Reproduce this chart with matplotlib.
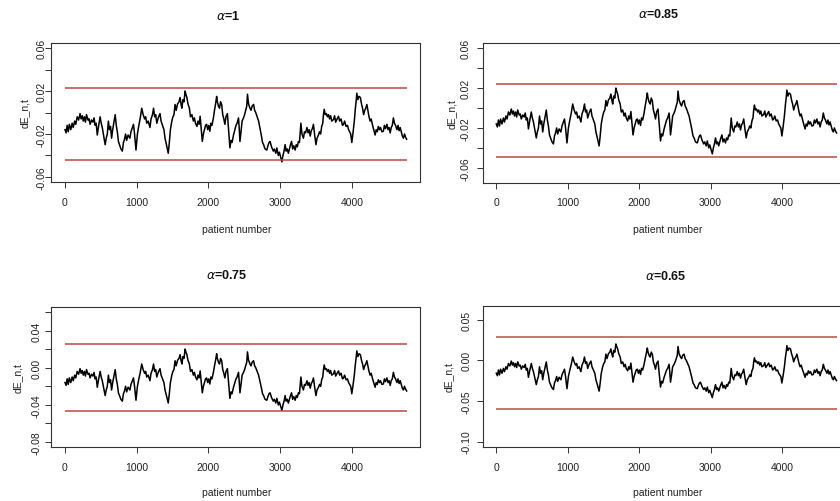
import numpy as np
import matplotlib.pyplot as plt

# punkty (numer pacjenta, wartość dE_n,t)
patient = [0, 15, 30, 45, 60, 80, 100, 115, 135, 150, 170, 190, 210, 225, 240, 255, 270, 285, 300, 320,
           335, 350, 370, 390, 405, 420, 435, 450, 470, 490, 505, 520, 540, 560, 575, 590, 605, 620, 635, 650,
           665, 680, 700, 715, 730, 745, 760, 780, 800, 815, 830, 845, 860, 880, 905, 920, 940, 955, 970, 990,
           1010, 1030, 1050, 1070, 1090, 1110, 1125, 1140, 1160, 1185, 1200, 1220, 1235, 1250, 1265, 1280, 1300, 1325, 1340, 1360,
           1380, 1395, 1415, 1440, 1455, 1470, 1490, 1505, 1520, 1535, 1550, 1570, 1590, 1605, 1618, 1630, 1645, 1660, 1675, 1690,
           1700, 1715, 1735, 1750, 1770, 1790, 1805, 1820, 1840, 1855, 1870, 1885, 1900, 1915, 1930, 1945, 1960, 1975, 1990, 2005,
           2020, 2035, 2050, 2070, 2085, 2100, 2115, 2125, 2140, 2155, 2170, 2185, 2200, 2215, 2230, 2245, 2265, 2280, 2300, 2315,
           2330, 2350, 2370, 2385, 2400, 2420, 2430, 2440, 2455, 2470, 2490, 2505, 2520, 2535, 2545, 2560, 2580, 2595, 2610, 2630,
           2645, 2660, 2680, 2700, 2720, 2740, 2755, 2770, 2790, 2815, 2830, 2845, 2860, 2880, 2905, 2920, 2940, 2955, 2975, 2990,
           3010, 3025, 3040, 3055, 3070, 3085, 3100, 3115, 3130, 3145, 3160, 3175, 3190, 3210, 3225, 3240, 3255, 3270, 3290, 3305,
           3325, 3340, 3355, 3375, 3390, 3405, 3420, 3435, 3450, 3465, 3480, 3500, 3515, 3535, 3550, 3565, 3580, 3595, 3605, 3615,
           3630, 3645, 3660, 3675, 3690, 3705, 3720, 3745, 3760, 3775, 3795, 3815, 3830, 3850, 3870, 3885, 3900, 3920, 3940, 3955,
           3970, 3985, 4000, 4015, 4035, 4050, 4060, 4070, 4085, 4100, 4120, 4135, 4150, 4165, 4180, 4195, 4210, 4225, 4240, 4255,
           4270, 4290, 4305, 4325, 4340, 4355, 4370, 4385, 4400, 4420, 4440, 4455, 4470, 4490, 4505, 4520, 4535, 4550, 4565, 4580,
           4595, 4610, 4630, 4645, 4660, 4675, 4690, 4705, 4720, 4735, 4750, 4765]
dE = [-0.016, -0.019, -0.012, -0.018, -0.011, -0.016, -0.010, -0.014, -0.008, -0.011, -0.004, -0.007, -0.001, -0.006, -0.003, -0.008, -0.004, -0.009, -0.002, -0.007,
      -0.006, -0.011, -0.007, -0.009, -0.005, -0.012, -0.010, -0.021, -0.012, -0.004, -0.010, -0.014, -0.022, -0.030, -0.024, -0.020, -0.008, -0.016, -0.013, -0.024,
      -0.016, -0.010, -0.002, -0.012, -0.018, -0.027, -0.030, -0.034, -0.036, -0.028, -0.025, -0.020, -0.026, -0.021, -0.024, -0.018, -0.014, -0.011, -0.020, -0.035,
      -0.020, -0.012, -0.005, 0.004, -0.002, -0.006, -0.004, -0.010, -0.008, -0.014, -0.006, -0.002, 0.004, -0.004, -0.002, -0.010, -0.005, -0.001, -0.008, -0.012,
      -0.016, -0.024, -0.030, -0.038, -0.028, -0.016, -0.008, -0.004, -0.002, 0.0075, 0.002, 0.008, 0.010, 0.014, 0.008, 0.004, 0.012, 0.010, 0.020, 0.016,
      0.014, 0.008, 0.004, -0.004, -0.002, -0.008, -0.005, -0.010, -0.013, -0.008, -0.011, -0.0035, -0.015, -0.027, -0.020, -0.016, -0.012, -0.011, -0.016, -0.012,
      -0.0175, -0.010, -0.012, -0.005, 0.002, 0.008, 0.015, 0.010, 0.006, 0.004, 0.010, 0.0075, -0.002, -0.006, -0.011, -0.004, -0.001, -0.015, -0.033, -0.026,
      -0.028, -0.021, -0.016, -0.012, -0.010, -0.005, -0.015, -0.027, -0.018, -0.008, -0.005, -0.002, 0.002, 0.006, 0.017, 0.008, 0.004, 0.002, 0.006, 0.0075,
      0.002, 0.000, -0.004, -0.008, -0.015, -0.022, -0.028, -0.030, -0.034, -0.035, -0.031, -0.028, -0.027, -0.032, -0.036, -0.034, -0.038, -0.033, -0.040, -0.037,
      -0.042, -0.046, -0.040, -0.036, -0.030, -0.036, -0.034, -0.038, -0.034, -0.030, -0.027, -0.034, -0.031, -0.035, -0.030, -0.032, -0.027, -0.028, -0.010, -0.020,
      -0.024, -0.018, -0.019, -0.014, -0.019, -0.016, -0.022, -0.017, -0.015, -0.011, -0.020, -0.030, -0.024, -0.021, -0.018, -0.020, -0.013, -0.010, -0.002, 0.003,
      -0.002, -0.001, -0.004, -0.002, -0.006, -0.003, -0.008, -0.0065, -0.003, -0.009, -0.006, -0.0035, -0.008, -0.006, -0.012, -0.011, -0.008, -0.013, -0.012, -0.016,
      -0.018, -0.020, -0.028, -0.020, -0.008, 0.004, 0.010, 0.018, 0.012, 0.015, 0.014, 0.008, 0.004, -0.002, 0.002, 0.004, 0.0075, 0.002, -0.004, -0.008,
      -0.006, -0.012, -0.016, -0.021, -0.016, -0.018, -0.013, -0.016, -0.014, -0.018, -0.0175, -0.012, -0.015, -0.011, -0.016, -0.014, -0.019, -0.014, -0.012, -0.005,
      -0.010, -0.012, -0.016, -0.012, -0.017, -0.014, -0.018, -0.022, -0.024, -0.020, -0.023, -0.025]

alphas = ['1', '0.85', '0.75', '0.65']
upper = [0.023, 0.024, 0.026, 0.029]
lower = [-0.044, -0.049, -0.047, -0.060]
ylims = [(-0.06, 0.06), (-0.07, 0.06), (-0.08, 0.06), (-0.10, 0.06)]
yticks = [np.arange(-0.06, 0.061, 0.02), np.arange(-0.06, 0.061, 0.02),
          np.arange(-0.08, 0.061, 0.02), np.arange(-0.10, 0.051, 0.05)]
ylabels_shown = [['-0.06', '-0.02', '0.02', '0.06'], ['-0.06', '-0.02', '0.02', '0.06'],
                 ['-0.08', '-0.04', '0.00', '0.04'], ['-0.10', '-0.05', '0.00', '0.05']]
xticks = [0, 1000, 2000, 3000, 4000]

W, H = 840, 502
fig = plt.figure(figsize=(W / 100, H / 100), dpi=100)

narrow = ['Liberation Sans Narrow', 'Liberation Sans', 'DejaVu Sans']
reg = ['Liberation Sans', 'DejaVu Sans']

# (lewo, góra, dół, px na 1000 pacjentów) w pikselach obrazka
boxes = [(65.0, 44, 183, 71.7), (496.3, 44, 184, 71.4), (65.0, 307.7, 448.3, 71.7), (496.3, 307.3, 447.7, 71.4)]
title_pos = [(228, 17), (659, 15), (227, 276), (666, 277)]
ylab_x = [25, 452, 18, 449]
tick_x = [42, 466, 37, 467]
xtick_y = [203, 203, 468, 468]
xlab_y = [230, 230, 493, 493]

x0, x1 = patient[0], patient[-1]
pad = 0.04 * (x1 - x0)
xlim = (x0 - pad, x1 + pad)

for i in range(4):
    zero, top, bot, scale = boxes[i]
    left = zero + xlim[0] * scale / 1000
    width = (xlim[1] - xlim[0]) * scale / 1000
    ax = fig.add_axes([left / W, 1 - bot / H, width / W, (bot - top) / H])
    ax.plot(patient, dE, color='black', lw=1.1)
    ax.hlines([upper[i], lower[i]], x0, x1, color='#bb4a47', lw=1.1)
    lo, hi = ylims[i]
    yp = 0.04 * (hi - lo)
    ax.set_ylim(lo - yp, hi + yp)
    ax.set_xlim(*xlim)
    ax.set_xticks(xticks)
    ax.set_yticks(yticks[i])
    ax.set_xticklabels([])
    ax.set_yticklabels([])
    ax.tick_params(direction='out', length=4, width=0.7, color='#333333')
    for s in ax.spines.values():
        s.set_linewidth(0.8)
        s.set_color('#333333')

    # etykiety osi rysowane jak w R
    for xt in xticks:
        xp = zero + xt * scale / 1000
        fig.text(xp / W, 1 - xtick_y[i] / H, str(xt), ha='center', va='center',
                 fontsize=7.5, family=narrow, color='#222222')
    for lab in ylabels_shown[i]:
        v = float(lab)
        yy = ax.transData.transform((0, v))[1]
        fig.text(tick_x[i] / W, yy / H, lab, ha='center', va='center', rotation=90,
                 fontsize=7.5, family=reg, color='#222222')
    fig.text(ylab_x[i] / W, 1 - (top + bot) / 2 / H, 'dE_n,t', ha='center', va='center',
             rotation=90, fontsize=7.5, family=reg, color='#222222')
    fig.text((zero + 2400 * scale / 1000) / W, 1 - xlab_y[i] / H, 'patient number',
             ha='center', va='center', fontsize=7.5, family=narrow, color='#222222')
    tx, ty = title_pos[i]
    fig.text(tx / W, 1 - ty / H, r'$\alpha$' + '=' + alphas[i], ha='center', va='center',
             fontsize=9, family=narrow, fontweight='bold', color='#111111')

fig.savefig('out.png', dpi=100)
